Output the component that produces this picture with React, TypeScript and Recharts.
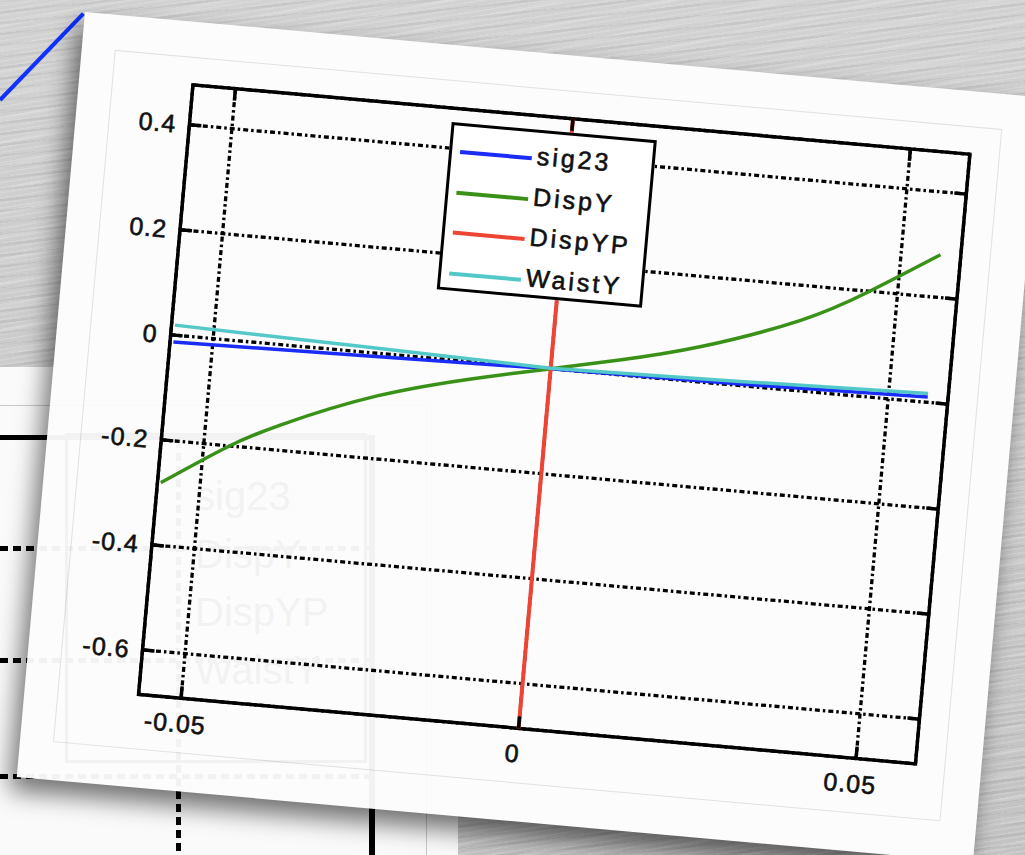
import React from "react";
import { LineChart, Line, XAxis, YAxis, CartesianGrid, ReferenceArea, Legend } from "recharts";

// values
const seriesNames = ["sig23", "DispY", "DispYP", "WaistY"];
const sig23X = [-0.0558, -0.028, 0, 0.028, 0.0558];
const sig23Y = [-0.013, -0.007, 0, 0.003, 0.01];
const dispYX = [-0.0558, -0.0467, -0.039, -0.025, -0.01, 0, 0.01, 0.022, 0.036, 0.0456, 0.0558];
const dispYY = [-0.281, -0.204, -0.152, -0.08, -0.028, 0, 0.028, 0.068, 0.133, 0.198, 0.281];
const dispYPX = [0, 0];
const dispYPY = [-1, 1];
const waistYX = [-0.0558, -0.028, 0, 0.028, 0.0558];
const waistYY = [0.019, 0.01, 0.001, 0.008, 0.017];

const xTicks = [-0.05, 0, 0.05];
const yTicks = [-0.6, -0.4, -0.2, 0, 0.2, 0.4];
const xDomain: [number, number] = [-0.0563, 0.0588];
const yDomain: [number, number] = [-0.685, 0.476];

const FONT = '"Liberation Sans", Arial, Helvetica, sans-serif';
const CARD_W = 960;
const CARD_H = 768;
const PLOT_W = 780;
const PLOT_H = 612;
const TICK = 12;

const toPoints = (xs: number[], ys: number[]) => xs.map((x, i) => ({ x, y: ys[i] }));

const renderYTick = (props: any) => {
  const { x, y, payload } = props;
  return (
    <g>
      <line x1={x} y1={y} x2={x + TICK} y2={y} stroke="#000" strokeWidth={3.5} />
      <line x1={x + PLOT_W - TICK} y1={y} x2={x + PLOT_W} y2={y} stroke="#000" strokeWidth={3.5} />
      <text x={x - 13} y={y + 9} textAnchor="end" fontFamily={FONT} fontSize={25} letterSpacing={1}
        fill="#111" stroke="#111" strokeWidth={0.6}>
        {String(payload.value)}
      </text>
    </g>
  );
};

const renderXTick = (props: any) => {
  const { x, y, payload } = props;
  return (
    <g>
      <line x1={x} y1={y} x2={x} y2={y - TICK} stroke="#000" strokeWidth={3.5} />
      <line x1={x} y1={y - PLOT_H} x2={x} y2={y - PLOT_H + TICK} stroke="#000" strokeWidth={3.5} />
      <text x={x - 4} y={y + 34} textAnchor="middle" fontFamily={FONT} fontSize={25} letterSpacing={1}
        fill="#111" stroke="#111" strokeWidth={0.6}>
        {String(payload.value)}
      </text>
    </g>
  );
};

const renderLegend = (props: any) => {
  const payload = props.payload || [];
  const items = seriesNames.map((n) => payload.find((p: any) => p.value === n)).filter(Boolean);
  return (
    <div style={{ width: 206, height: 168, boxSizing: "border-box", border: "3.5px solid #000", background: "#fff", position: "relative" }}>
      {items.map((entry: any, i: number) => {
        const r = 29 + i * 40.5;
        return (
          <React.Fragment key={entry.value}>
            <div style={{ position: "absolute", left: 8, top: r - 5, width: 72, height: 4, background: entry.color }} />
            <span style={{ position: "absolute", left: 85, top: r - 18, fontFamily: FONT, fontSize: 25, lineHeight: "25px",
              letterSpacing: 3, color: "#111", whiteSpace: "nowrap", WebkitTextStroke: "0.6px #111" }}>
              {entry.value}
            </span>
          </React.Fragment>
        );
      })}
    </div>
  );
};

const dashH = "repeating-linear-gradient(90deg, #000 0 8px, transparent 8px 13px)";
const dashV = "repeating-linear-gradient(180deg, #000 0 8px, transparent 8px 13px)";

// the other chart lying underneath the card; drawn again faintly on top to mimic show-through
function UnderPanel({ faint }: { faint?: boolean }) {
  return (
    <div style={{ position: "absolute", left: 0, top: 367, width: 458, height: 520, background: faint ? "transparent" : "#fafafa",
      opacity: faint ? 0.035 : 1, pointerEvents: "none" }}>
      <div style={{ position: "absolute", left: -10, top: 38, width: 435, height: 600, border: "1px solid #c8c8c8" }} />
      <div style={{ position: "absolute", left: -10, top: 68, width: 385, height: 5, background: "#000" }} />
      <div style={{ position: "absolute", left: 369, top: 68, width: 6, height: 500, background: "#000" }} />
      <div style={{ position: "absolute", left: 0, top: 179, width: 369, height: 5, background: dashH }} />
      <div style={{ position: "absolute", left: 0, top: 291, width: 369, height: 5, background: dashH }} />
      <div style={{ position: "absolute", left: 0, top: 407, width: 369, height: 5, background: dashH }} />
      <div style={{ position: "absolute", left: 176, top: 73, width: 5, height: 500, background: dashV }} />
      <div style={{ position: "absolute", left: 65, top: 66, width: 302, height: 330, boxSizing: "border-box",
        border: "3px solid #000", background: faint ? "transparent" : "#fff" }}>
        {seriesNames.map((n, i) => (
          <span key={n} style={{ position: "absolute", left: 127, top: 40 + i * 58, fontFamily: FONT, fontSize: 40,
            lineHeight: "40px", color: "#000", whiteSpace: "nowrap" }}>
            {n}
          </span>
        ))}
      </div>
    </div>
  );
}

export default function App() {
  return (
    <div style={{
      position: "fixed", left: 0, top: 0, width: 1025, height: 855, overflow: "hidden",
      background: [
        "repeating-linear-gradient(171deg, rgba(255,255,255,0.16) 0px, rgba(255,255,255,0.16) 1px, transparent 2px, transparent 5px)",
        "repeating-linear-gradient(174deg, rgba(0,0,0,0.05) 0px, rgba(0,0,0,0.05) 2px, transparent 3px, transparent 11px)",
        "repeating-linear-gradient(168deg, rgba(255,255,255,0.12) 0px, rgba(255,255,255,0.12) 3px, transparent 5px, transparent 23px)",
        "linear-gradient(180deg, #d2d2d2, #c3c3c3)",
      ].join(", "),
    }}>
      <UnderPanel />
      <div style={{ position: "absolute", left: 0, top: 98, width: 120, height: 4, background: "#1030ff",
        transform: "rotate(-46deg)", transformOrigin: "0 50%" }} />

      {/* the card */}
      <div style={{
        position: "absolute", left: 85, top: 12, width: CARD_W, height: CARD_H, background: "#fcfcfc",
        transform: "rotate(5.1deg)", transformOrigin: "0 0",
        boxShadow: "-6px 14px 24px rgba(0,0,0,0.55)",
      }}>
        <div style={{ position: "absolute", left: 33, top: 35, width: 889, height: 693, border: "1px solid #e0e0e0" }} />
        <div style={{ position: "absolute", left: 0, top: 0 }}>
          <LineChart width={CARD_W} height={CARD_H} margin={{ top: 63, right: 66, bottom: 53, left: 54 }}>
            <CartesianGrid stroke="#000" strokeWidth={3.3} strokeDasharray="5 3 2.5 3" />
            <XAxis type="number" dataKey="x" domain={xDomain} ticks={xTicks} allowDataOverflow
              height={40} tickSize={0} tickMargin={0} tickLine={false} axisLine={false} tick={renderXTick} interval={0} />
            <YAxis type="number" dataKey="y" domain={yDomain} ticks={yTicks} allowDataOverflow
              width={60} tickSize={0} tickMargin={0} tickLine={false} axisLine={false} tick={renderYTick} interval={0} />
            <Line data={toPoints(sig23X, sig23Y)} dataKey="y" name="sig23" type="linear" stroke="#1a2cf5"
              strokeWidth={3.5} dot={false} isAnimationActive={false} />
            <Line data={toPoints(dispYX, dispYY)} dataKey="y" name="DispY" type="natural" stroke="#3a9118"
              strokeWidth={3.5} dot={false} isAnimationActive={false} />
            <Line data={toPoints(dispYPX, dispYPY)} dataKey="y" name="DispYP" type="linear" stroke="#ee4433"
              strokeWidth={4} dot={false} isAnimationActive={false} />
            <Line data={toPoints(waistYX, waistYY)} dataKey="y" name="WaistY" type="linear" stroke="#52c8c8"
              strokeWidth={3.5} dot={false} isAnimationActive={false} />
            <ReferenceArea x1={xDomain[0]} x2={xDomain[1]} y1={yDomain[0]} y2={yDomain[1]}
              fill="none" stroke="#000" strokeWidth={3.5} ifOverflow="visible" />
            <Legend layout="vertical" align="center" verticalAlign="middle" content={renderLegend}
              wrapperStyle={{ left: 375, top: 77, width: 206, height: 168 }} />
          </LineChart>
        </div>
      </div>
      <UnderPanel faint />
    </div>
  );
}
